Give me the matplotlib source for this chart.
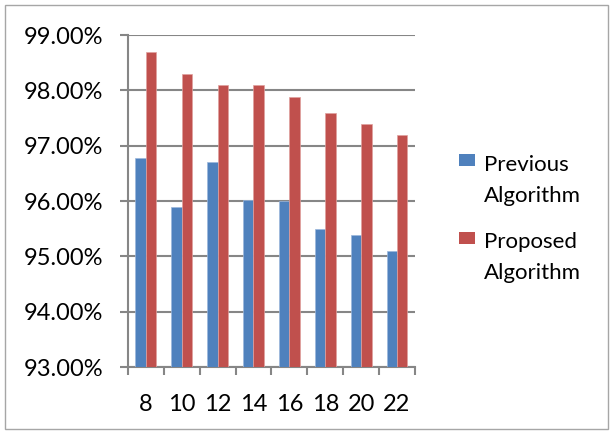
import matplotlib.pyplot as plt
import numpy as np
from matplotlib.patches import Rectangle
from matplotlib.container import BarContainer
from matplotlib.legend_handler import HandlerPatch
from matplotlib.ticker import FuncFormatter, FixedLocator

categories = ['8', '10', '12', '14', '16', '18', '20', '22']
previous = [96.78, 95.90, 96.70, 96.02, 96.01, 95.49, 95.39, 95.09]
proposed = [98.70, 98.29, 98.09, 98.09, 97.89, 97.59, 97.39, 97.19]

plt.rcParams['font.family'] = ['Lato', 'DejaVu Sans']

fig = plt.figure(figsize=(6.12, 4.33), dpi=100)
fig.patches.append(Rectangle((0.008, 0.01), 0.985, 0.978, transform=fig.transFigure,
                             fill=False, edgecolor='#a6a6a6', linewidth=1.0))

ax = fig.add_axes([0.209, 0.152, 0.469, 0.767])
x = np.arange(len(categories))
w = 0.29
ax.bar(x - w / 2, previous, w, color='#4F81BD', edgecolor='#9bb7dc', linewidth=0.5,
       label='Previous\nAlgorithm', zorder=3)
ax.bar(x + w / 2, proposed, w, color='#C0504D', edgecolor='#e0a09e', linewidth=0.5,
       label='Proposed\nAlgorithm', zorder=3)

ax.set_ylim(93, 99)
ax.set_xlim(-0.5, len(categories) - 0.5)
ax.set_yticks(np.arange(93, 99.5, 1))
ax.yaxis.set_major_formatter(FuncFormatter(lambda v, p: '%.2f%%' % v))
ax.grid(axis='y', color='#868686', linewidth=1.5, zorder=0)

ax.set_xticks(x)
ax.set_xticklabels(categories)
ax.xaxis.set_minor_locator(FixedLocator(np.arange(-0.5, len(categories), 1)))
ax.tick_params(axis='x', which='major', length=0, pad=19, labelsize=17)
ax.tick_params(axis='x', which='minor', length=6, width=1.5, color='#868686')
ax.tick_params(axis='y', length=6, width=1.5, color='#868686', pad=12, labelsize=17)

for s in ['top', 'right']:
    ax.spines[s].set_visible(False)
for s in ['left', 'bottom']:
    ax.spines[s].set_color('#868686')
    ax.spines[s].set_linewidth(1.5)


# legend square sits next to the first line of the label, like Excel does
def top_square(legend, orig_handle, xdescent, ydescent, width, height, fontsize):
    return Rectangle((-xdescent, -ydescent + 15), 11, 8.6)


def first_bar(tgt, src):
    tgt.update_from(src.patches[0])
    tgt.set_linewidth(0)


leg = ax.legend(loc='center left', bbox_to_anchor=(1.085, 0.446), frameon=False, fontsize=16,
                handlelength=0.69, handleheight=0.54, handletextpad=0.42, labelspacing=1.19,
                handler_map={BarContainer: HandlerPatch(patch_func=top_square,
                                                        update_func=first_bar)})
for t in leg.get_texts():
    t.set_linespacing(1.7)

fig.savefig('out.png', dpi=100)
